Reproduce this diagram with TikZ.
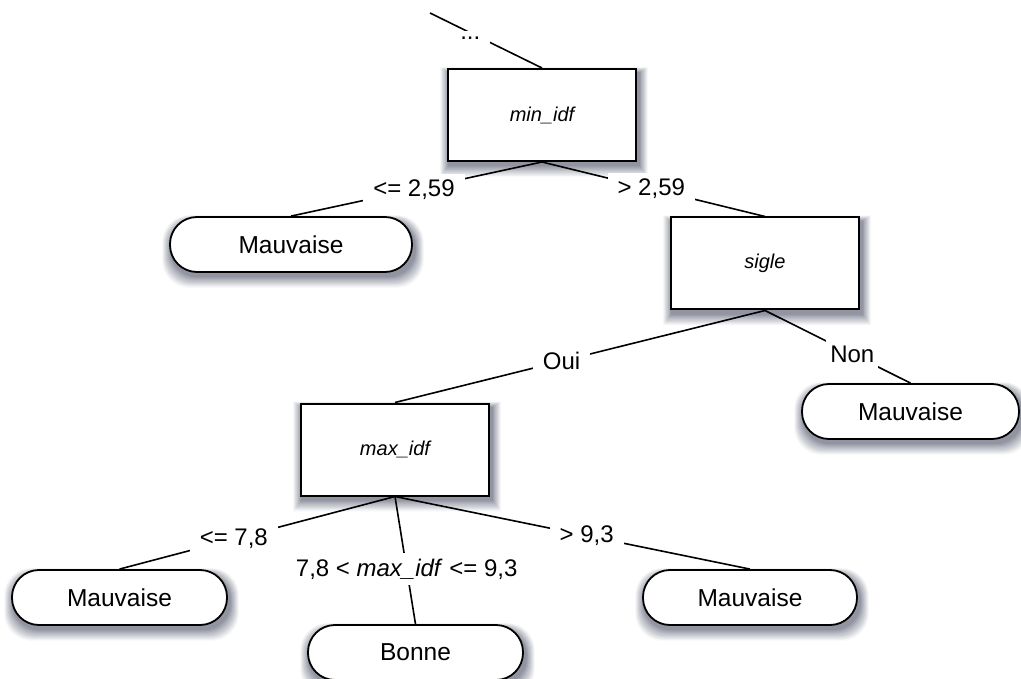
\documentclass[tikz,border=0pt]{standalone}
\usepackage{fontspec}
\setmainfont{Liberation Sans}
\pgfdeclarelayer{background}
\pgfsetlayers{background,main}
\definecolor{shade}{RGB}{60,66,88}
\begin{document}
\begin{tikzpicture}[x=1pt,y=-1pt,
  testbox/.style={draw, line width=2pt, fill=white, minimum width=188pt, minimum height=92pt,
    inner sep=0pt, font=\fontsize{20}{24}\selectfont\itshape},
  leaf/.style={draw, line width=1.8pt, fill=white, rounded corners=27pt, minimum height=55pt,
    inner sep=0pt, font=\fontsize{24.5}{28}\selectfont},
  conn/.style={line width=1.6pt},
  lab/.style={fill=white, inner xsep=10pt, inner ysep=6pt, font=\fontsize{24}{28}\selectfont}]
\useasboundingbox (0,0) rectangle (1021,679);

% test nodes
\node[testbox] (minidf) at (542,115) {min\_idf};
\node[testbox] (sigle) at (765,263.5) {sigle};
\node[testbox] (maxidf) at (395,449.5) {max\_idf};

% leaves
\node[leaf, minimum width=242pt] (m1) at (291,244.5) {Mauvaise};
\node[leaf, minimum width=217pt] (m2) at (910.5,411.5) {Mauvaise};
\node[leaf, minimum width=215pt] (m3) at (119.5,597.5) {Mauvaise};
\node[leaf, minimum width=215pt] (bonne) at (415.5,652.5) {Bonne};
\node[leaf, minimum width=214pt] (m4) at (750,597.5) {Mauvaise};

% soft shadows
\begin{pgfonlayer}{background}
\foreach \n/\r in {minidf/0.1,sigle/0.1,maxidf/0.1,m1/27,m2/27,m3/27,bonne/27,m4/27}{
  \foreach \k in {10,...,1}{
    \pgfmathtruncatemacro\p{62-5.8*\k}
    \fill[fill=shade!\p!white, rounded corners=\r pt]
      ([shift={(2-0.9*\k, 5-0.6*\k)}]\n.north west) rectangle
      ([shift={(2+0.9*\k, 3+1.2*\k)}]\n.south east);
  }
}
\end{pgfonlayer}

% connectors
\coordinate (top) at (430,13);
\draw[conn] (top) -- node[lab, pos=0.36, yshift=-5pt] {...} (minidf.north);
\draw[conn] (minidf.south) -- node[lab, pos=0.51] {<= 2,59} (m1.north);
\draw[conn] (minidf.south) -- node[lab, pos=0.49] {> 2,59} (sigle.north);
\draw[conn] (sigle.south) -- node[lab, pos=0.55] {Oui} (maxidf.north);
\draw[conn] (sigle.south) -- node[lab, pos=0.6, inner xsep=4pt] {Non} (m2.north);
\draw[conn] (maxidf.south) -- node[lab, pos=0.585] {<= 7,8} (m3.north);
\draw[conn] (maxidf.south) -- node[lab, pos=0.57, inner xsep=2pt] {7,8 < \textit{max\_idf} <= 9,3} (bonne.north);
\draw[conn] (maxidf.south) -- node[lab, pos=0.54] {> 9,3} (m4.north);
\end{tikzpicture}
\end{document}
